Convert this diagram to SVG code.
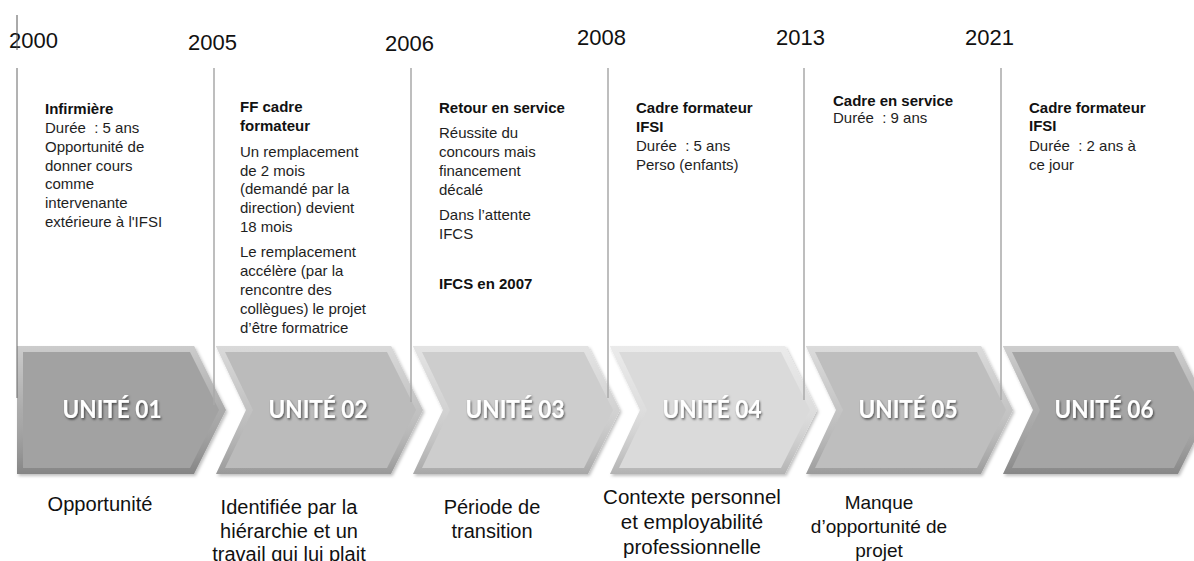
<svg xmlns="http://www.w3.org/2000/svg" width="1194" height="561" viewBox="0 0 1194 561">
<defs>
<style>
.yr{font-family:"Liberation Sans",Arial,sans-serif;font-size:22px;fill:#111}
.d{font-family:"Liberation Sans",Arial,sans-serif;font-size:15px;fill:#1e1e1e}
.b{font-weight:bold;fill:#111}
.lab{font-family:"Liberation Sans",Arial,sans-serif;font-size:20px;fill:#111;text-anchor:middle}
.u{font-family:Lato,"Open Sans",sans-serif;font-weight:bold;font-size:24px;fill:#fff;text-anchor:middle;filter:url(#ts)}
.con{stroke:#a8a8a8;stroke-width:1.5;fill:none}
</style>
<linearGradient id="bev" x1="0" y1="0" x2="0" y2="1">
<stop offset="0" stop-color="#fff" stop-opacity="0.45"/>
<stop offset="0.5" stop-color="#fff" stop-opacity="0.1"/>
<stop offset="1" stop-color="#000" stop-opacity="0.18"/>
</linearGradient>
<filter id="sh" x="-10%" y="-10%" width="130%" height="130%">
<feDropShadow dx="1.5" dy="2" stdDeviation="1.5" flood-color="#000" flood-opacity="0.25"/>
</filter>
<filter id="ts" x="-10%" y="-20%" width="130%" height="150%">
<feDropShadow dx="1" dy="1.5" stdDeviation="0.8" flood-color="#000" flood-opacity="0.6"/>
</filter>
</defs>
<rect width="1194" height="561" fill="#fff"/>

<g id="unit1">
<text class="yr" x="9" y="48">2000</text>
<text class="d"><tspan class="b" x="45" y="114">Infirmière</tspan><tspan x="45" y="133">Durée&#160; : 5 ans</tspan><tspan x="45" y="152">Opportunité de</tspan><tspan x="45" y="171">donner cours</tspan><tspan x="45" y="189">comme</tspan><tspan x="45" y="208">intervenante</tspan><tspan x="45" y="227">extérieure à l'IFSI</tspan></text>
<g filter="url(#sh)">
<polygon points="17,346 194,346 226,410 194,474 17,474" fill="#a2a2a2"/>
<polygon points="17,346 194,346 226,410 194,474 17,474" fill="url(#bev)"/>
<polygon points="23,352 190,352 219,410 190,468 23,468" fill="#a2a2a2"/>
</g>
<text class="u" x="112" y="418" textLength="99" lengthAdjust="spacingAndGlyphs">UNITÉ 01</text>
<text class="lab" x="100" y="511" textLength="105" lengthAdjust="spacingAndGlyphs">Opportunité</text>
</g>

<g id="unit2">
<text class="yr" x="188" y="50">2005</text>
<text class="d"><tspan class="b" x="240" y="112">FF cadre</tspan><tspan class="b" x="240" y="131">formateur</tspan><tspan x="240" y="157">Un remplacement</tspan><tspan x="240" y="176">de 2 mois</tspan><tspan x="240" y="194">(demandé par la</tspan><tspan x="240" y="213">direction) devient</tspan><tspan x="240" y="232">18 mois</tspan><tspan x="240" y="257">Le remplacement</tspan><tspan x="240" y="276">accélère (par la</tspan><tspan x="240" y="295">rencontre des</tspan><tspan x="240" y="314">collègues) le projet</tspan><tspan x="240" y="333">d’être formatrice</tspan></text>
<g filter="url(#sh)">
<polygon points="216,346 391,346 423,410 391,474 216,474 246,410" fill="#bbbbbb"/>
<polygon points="216,346 391,346 423,410 391,474 216,474 246,410" fill="url(#bev)"/>
<polygon points="225,352 387,352 416,410 387,468 225,468 253,410" fill="#bbbbbb"/>
</g>
<text class="u" x="318" y="418" textLength="99" lengthAdjust="spacingAndGlyphs">UNITÉ 02</text>
<text class="lab"><tspan x="289" y="514">Identifiée par la</tspan><tspan x="289" y="538">hiérarchie et un</tspan><tspan x="289" y="561">travail qui lui plait</tspan></text>
</g>

<g id="unit3">
<text class="yr" x="385" y="51">2006</text>
<text class="d"><tspan class="b" x="439" y="113">Retour en service</tspan><tspan x="439" y="138">Réussite du</tspan><tspan x="439" y="157">concours mais</tspan><tspan x="439" y="176">financement</tspan><tspan x="439" y="195">décalé</tspan><tspan x="439" y="220">Dans l’attente</tspan><tspan x="439" y="239">IFCS</tspan><tspan class="b" x="439" y="289">IFCS en 2007</tspan></text>
<g filter="url(#sh)">
<polygon points="413,346 588,346 620,410 588,474 413,474 443,410" fill="#cdcdcd"/>
<polygon points="413,346 588,346 620,410 588,474 413,474 443,410" fill="url(#bev)"/>
<polygon points="422,352 584,352 613,410 584,468 422,468 450,410" fill="#cdcdcd"/>
</g>
<text class="u" x="515" y="418" textLength="99" lengthAdjust="spacingAndGlyphs">UNITÉ 03</text>
<text class="lab"><tspan x="492" y="514">Période de</tspan><tspan x="492" y="538">transition</tspan></text>
</g>

<g id="unit4">
<text class="yr" x="577" y="45">2008</text>
<text class="d"><tspan class="b" x="636" y="113">Cadre formateur</tspan><tspan class="b" x="636" y="132">IFSI</tspan><tspan x="636" y="151">Durée&#160; : 5 ans</tspan><tspan x="636" y="170">Perso (enfants)</tspan></text>
<g filter="url(#sh)">
<polygon points="610,346 785,346 817,410 785,474 610,474 640,410" fill="#dadada"/>
<polygon points="610,346 785,346 817,410 785,474 610,474 640,410" fill="url(#bev)"/>
<polygon points="619,352 781,352 810,410 781,468 619,468 647,410" fill="#dadada"/>
</g>
<text class="u" x="712" y="418" textLength="99" lengthAdjust="spacingAndGlyphs">UNITÉ 04</text>
<text class="lab" style="font-size:20.5px"><tspan x="692" y="504">Contexte personnel</tspan><tspan x="692" y="529">et employabilité</tspan><tspan x="692" y="554">professionnelle</tspan></text>
</g>

<g id="unit5">
<text class="yr" x="776" y="45">2013</text>
<text class="d"><tspan class="b" x="833" y="106">Cadre en service</tspan><tspan x="833" y="123">Durée&#160; : 9 ans</tspan></text>
<g filter="url(#sh)">
<polygon points="806,346 981,346 1013,410 981,474 806,474 836,410" fill="#bebebe"/>
<polygon points="806,346 981,346 1013,410 981,474 806,474 836,410" fill="url(#bev)"/>
<polygon points="815,352 977,352 1006,410 977,468 815,468 843,410" fill="#bebebe"/>
</g>
<text class="u" x="908" y="418" textLength="99" lengthAdjust="spacingAndGlyphs">UNITÉ 05</text>
<text class="lab" style="font-size:19px"><tspan x="879" y="509">Manque</tspan><tspan x="879" y="533">d’opportunité de</tspan><tspan x="879" y="557">projet</tspan></text>
</g>

<g id="unit6">
<text class="yr" x="965" y="45">2021</text>
<text class="d"><tspan class="b" x="1029" y="113">Cadre formateur</tspan><tspan class="b" x="1029" y="131">IFSI</tspan><tspan x="1029" y="151">Durée&#160; : 2 ans à</tspan><tspan x="1029" y="170">ce jour</tspan></text>
<g filter="url(#sh)">
<polygon points="1003,346 1178,346 1210,410 1178,474 1003,474 1033,410" fill="#a5a5a5"/>
<polygon points="1003,346 1178,346 1210,410 1178,474 1003,474 1033,410" fill="url(#bev)"/>
<polygon points="1012,352 1174,352 1203,410 1174,468 1012,468 1040,410" fill="#a5a5a5"/>
</g>
<text class="u" x="1104" y="418" textLength="99" lengthAdjust="spacingAndGlyphs">UNITÉ 06</text>
</g>

<g id="connectors">
<line x1="17" y1="15" x2="17" y2="50" stroke="#555" stroke-width="1"/>
<line x1="17" y1="68" x2="17" y2="398" stroke="#666" stroke-width="1"/>
<line class="con" x1="214" y1="68" x2="214" y2="405"/>
<line class="con" x1="411" y1="68" x2="411" y2="402"/>
<line class="con" x1="608" y1="68" x2="608" y2="398"/>
<line class="con" x1="804" y1="68" x2="804" y2="400"/>
<line class="con" x1="1001" y1="68" x2="1001" y2="400"/>
</g>
</svg>
